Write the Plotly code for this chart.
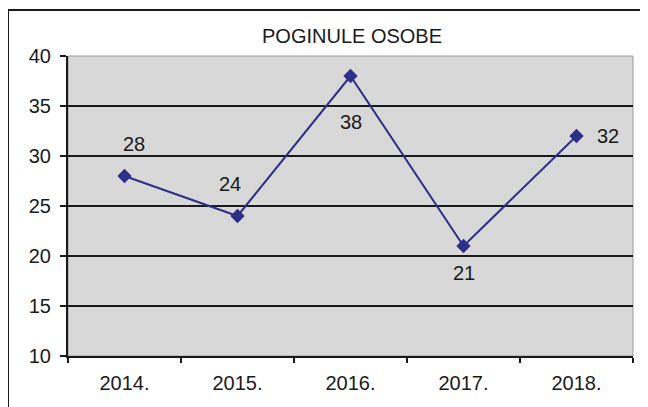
import plotly.graph_objects as go

years = ["2014.", "2015.", "2016.", "2017.", "2018."]
values = [28, 24, 38, 21, 32]
label_dx = [9, -8, 0, 0, 31]
label_dy = [32, 32, -46, -27, 0]

title_text = "POGINULE OSOBE"
y_ticks = [10, 15, 20, 25, 30, 35, 40]

FONT = "Liberation Sans, Arial, sans-serif"
navy = "#2e2f86"
ink = "#1a1a1a"

fig = go.Figure()
fig.add_trace(go.Scatter(
    x=years, y=values, mode="lines+markers",
    line=dict(color=navy, width=2),
    marker=dict(symbol="diamond", size=11, color=navy),
    hoverinfo="skip", showlegend=False,
))

for i, (v, dx, dy) in enumerate(zip(values, label_dx, label_dy)):
    fig.add_annotation(x=i, y=v, xref="x", yref="y", text=str(v), showarrow=False,
                       xshift=dx, yshift=dy,
                       font=dict(family=FONT, size=20, color=ink))

fig.add_annotation(xref="paper", yref="paper", x=0.5035, y=1.0667,
                   xanchor="center", yanchor="middle",
                   text=title_text, showarrow=False,
                   font=dict(family=FONT, size=20, color=ink))

# plot area thin gray frame
fig.add_shape(type="rect", xref="paper", yref="paper", x0=0, x1=1, y0=0, y1=1,
              line=dict(color="#9a9a9a", width=1), layer="below")
# outer chart border (cut off at right/bottom)
fig.add_shape(type="rect", xref="paper", yref="paper", x0=-0.1062, x1=1.2,
              y0=-0.4, y1=1.1533, line=dict(color=ink, width=2))

# page body has an 8px margin: figure is offset by 8px
fig.update_layout(
    width=640, height=399,
    margin=dict(l=60, r=15, t=48, b=51, autoexpand=False),
    paper_bgcolor="white", plot_bgcolor="#d8d8d8",
    font=dict(family=FONT, size=20, color=ink),
)
fig.update_xaxes(type="category", range=[-0.5, 4.5], tickson="boundaries",
                 ticks="outside", ticklen=5, tickwidth=2, tickcolor=ink,
                 showline=True, linecolor=ink, linewidth=2,
                 showgrid=False, zeroline=False, ticklabelstandoff=8,
                 tickfont=dict(family=FONT, size=20, color=ink))
fig.update_yaxes(range=[10, 40], tickvals=y_ticks,
                 ticks="outside", ticklen=6, tickwidth=2, tickcolor=ink,
                 showline=True, linecolor=ink, linewidth=2,
                 showgrid=True, gridcolor=ink, gridwidth=2,
                 zeroline=False, ticklabelstandoff=5,
                 tickfont=dict(family=FONT, size=20, color=ink))

fig.write_html("out.html")
